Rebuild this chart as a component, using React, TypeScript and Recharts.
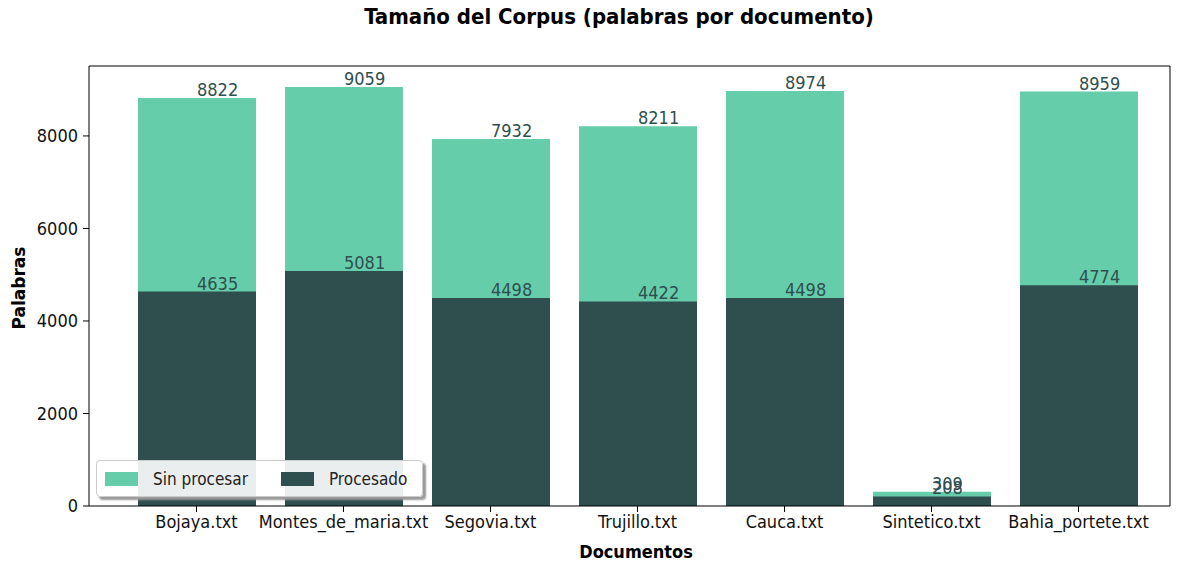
import React from 'react';
import { BarChart, Bar, XAxis, YAxis, LabelList } from 'recharts';

const documentos = ['Bojaya.txt', 'Montes_de_maria.txt', 'Segovia.txt', 'Trujillo.txt', 'Cauca.txt', 'Sintetico.txt', 'Bahia_portete.txt'];
const sinProcesar = [8822, 9059, 7932, 8211, 8974, 309, 8959];
const procesado = [4635, 5081, 4498, 4422, 4498, 208, 4774];
const yTicks = [0, 2000, 4000, 6000, 8000];

const data = documentos.map((d, i) => ({ doc: d, sin: sinProcesar[i], pro: procesado[i] }));

const GREEN = '#66CDAA';
const DARK = '#2F4F4F';
const FONT = '"DejaVu Sans Condensed", "DejaVu Sans", sans-serif';

const ValueLabel = (props: any) => {
  const { x, y, width, value } = props;
  return (
    <text x={x + width / 2} y={y - 2} fill={DARK} fontSize={18} fontFamily={FONT} textAnchor="start">
      {value}
    </text>
  );
};

const LegendBox = () => (
  <div
    style={{
      position: 'absolute',
      left: 96,
      top: 460,
      boxSizing: 'border-box',
      width: 327,
      height: 37,
      border: '1px solid #ccc',
      borderRadius: 4,
      background: 'rgba(255,255,255,0.9)',
      boxShadow: '3px 3px 2px #999',
      padding: '0 8px',
      display: 'flex',
      alignItems: 'center',
      fontFamily: FONT,
      fontSize: 17,
      color: '#222',
      whiteSpace: 'nowrap',
    }}
  >
    <span style={{ display: 'inline-block', width: 33, height: 14, background: GREEN, marginRight: 15 }} />
    <span style={{ marginRight: 33 }}>Sin procesar</span>
    <span style={{ display: 'inline-block', width: 33, height: 14, background: DARK, marginRight: 15 }} />
    <span>Procesado</span>
  </div>
);

export default function App() {
  return (
    <div style={{ position: 'relative', width: 1182, height: 567, background: '#fff' }}>
      <style>{'body{margin:0}'}</style>
      <BarChart
        width={1182}
        height={567}
        data={data}
        margin={{ top: 65, right: 11, bottom: 0, left: 29 }}
        barGap={-118}
      >
        <XAxis
          dataKey="doc"
          padding={{ left: 34, right: 18 }}
          tickLine={{ stroke: '#000' }}
          tickSize={6}
          tickMargin={3}
          height={61}
          axisLine={{ stroke: '#000' }}
          tick={{ fill: '#111', fontSize: 18, fontFamily: FONT }}
          interval={0}
        />
        <XAxis xAxisId="top" orientation="top" dataKey="doc" tick={false} tickLine={false} axisLine={{ stroke: '#000' }} height={1} />
        <YAxis
          domain={[0, 9512]}
          ticks={yTicks}
          tickSize={6}
          tickMargin={5}
          tickLine={{ stroke: '#000' }}
          axisLine={{ stroke: '#000' }}
          tick={{ fill: '#111', fontSize: 18, fontFamily: FONT }}
          allowDataOverflow
          width={60}
        />
        <YAxis yAxisId="right" orientation="right" domain={[0, 9512]} tick={false} tickLine={false} axisLine={{ stroke: '#000' }} width={1} />
        <Bar dataKey="sin" name="Sin procesar" fill={GREEN} barSize={118} isAnimationActive={false}>
          <LabelList dataKey="sin" content={ValueLabel} />
        </Bar>
        <Bar dataKey="pro" name="Procesado" fill={DARK} barSize={118} isAnimationActive={false}>
          <LabelList dataKey="pro" content={ValueLabel} />
        </Bar>
      </BarChart>
      <LegendBox />
      <div
        style={{
          position: 'absolute',
          top: 4,
          left: 0,
          width: 1238,
          textAlign: 'center',
          fontFamily: FONT,
          fontWeight: 'bold',
          fontSize: 22,
          color: '#000',
        }}
      >
        Tamaño del Corpus (palabras por documento)
      </div>
      <div
        style={{
          position: 'absolute',
          top: 541,
          left: 536,
          width: 200,
          textAlign: 'center',
          fontFamily: FONT,
          fontWeight: 'bold',
          fontSize: 18,
          color: '#000',
        }}
      >
        Documentos
      </div>
      <div
        style={{
          position: 'absolute',
          top: 288,
          left: 19,
          transform: 'translate(-50%, -50%) rotate(-90deg)',
          fontFamily: '"DejaVu Sans", sans-serif',
          fontWeight: 'bold',
          fontSize: 17,
          color: '#000',
          whiteSpace: 'nowrap',
        }}
      >
        Palabras
      </div>
    </div>
  );
}
